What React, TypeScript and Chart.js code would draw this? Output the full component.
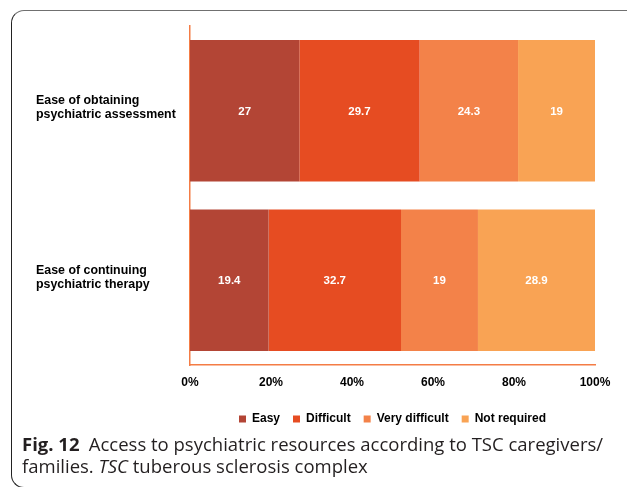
import React, { useEffect, useRef } from "react";
import { Chart, registerables } from "chart.js";

Chart.register(...registerables);

const categories: string[][] = [
  ["Ease of obtaining", "psychiatric assessment"],
  ["Ease of continuing", "psychiatric therapy"],
];
const seriesNames = ["Easy", "Difficult", "Very difficult", "Not required"];
const easy = [27, 19.4];
const difficult = [29.7, 32.7];
const veryDifficult = [24.3, 19];
const notRequired = [19, 28.9];
const seriesColors = ["#B34535", "#E64C22", "#F38249", "#F9A354"];
const xTicks = [0, 20, 40, 60, 80, 100];

const FONT = "Arial, 'Liberation Sans', sans-serif";

const valueLabels = {
  id: "valueLabels",
  afterDatasetsDraw(chart: any) {
    const ctx = chart.ctx;
    ctx.save();
    ctx.font = `bold 11.5px ${FONT}`;
    ctx.fillStyle = "#ffffff";
    ctx.textAlign = "center";
    ctx.textBaseline = "middle";
    chart.data.datasets.forEach((ds: any, i: number) => {
      const meta = chart.getDatasetMeta(i);
      meta.data.forEach((bar: any, j: number) => {
        const p = bar.getProps(["x", "y", "base"], true);
        ctx.fillText(String(ds.data[j]), (p.x + p.base) / 2, p.y + 1);
      });
    });
    ctx.restore();
  },
};

export default function App() {
  const ref = useRef<HTMLCanvasElement | null>(null);

  useEffect(() => {
    if (!ref.current) return;
    const allSeries = [easy, difficult, veryDifficult, notRequired];
    const chart = new Chart(ref.current, {
      type: "bar",
      data: {
        labels: categories,
        datasets: allSeries.map((d, i) => ({
          label: seriesNames[i],
          data: d,
          backgroundColor: seriesColors[i],
          borderWidth: 0,
          categoryPercentage: 1,
          barPercentage: 0.834,
        })),
      },
      options: {
        indexAxis: "y",
        animation: false,
        responsive: false,
        maintainAspectRatio: false,
        layout: { padding: { left: 36, top: 26, right: 32, bottom: 0 } },
        plugins: {
          tooltip: { enabled: false },
          legend: {
            position: "bottom",
            fullSize: false,
            labels: {
              boxWidth: 7,
              boxHeight: 7,
              padding: 13,
              color: "#000",
              font: { family: FONT, size: 12, weight: "bold" },
            },
          },
        },
        scales: {
          x: {
            stacked: true,
            min: 0,
            max: 100,
            afterBuildTicks: (s: any) => {
              s.ticks = xTicks.map((v) => ({ value: v }));
            },
            afterFit: (s: any) => {
              s.height = 35;
            },
            grid: { display: false, drawTicks: false },
            border: { display: true, color: "#F47C45", width: 1.5 },
            ticks: {
              padding: 10,
              color: "#000",
              font: { family: FONT, size: 12, weight: "bold" },
              callback: (v: any) => `${v}%`,
            },
          },
          y: {
            stacked: true,
            afterFit: (s: any) => {
              s.width = 154;
            },
            grid: { display: false, drawTicks: false },
            border: { display: true, color: "#F47C45", width: 1.5 },
            ticks: {
              crossAlign: "far",
              labelOffset: -3,
              color: "#000",
              font: { family: FONT, size: 12.4, weight: "bold", lineHeight: 1.15 },
            },
          },
        },
      },
      plugins: [valueLabels],
    });
    return () => chart.destroy();
  }, []);

  return (
    <div
      style={{
        position: "absolute",
        left: 0,
        top: 0,
        width: 627,
        height: 487,
        overflow: "hidden",
        background: "#fff",
      }}
    >
      <div
        style={{
          position: "absolute",
          left: 11,
          top: 10,
          width: 660,
          height: 478,
          borderTop: "1.5px solid #707070",
          borderLeft: "1.5px solid #222",
          borderBottom: "1.5px solid #222",
          borderTopLeftRadius: 13,
          borderBottomLeftRadius: 13,
          boxSizing: "border-box",
        }}
      />
      <canvas
        ref={ref}
        width={627}
        height={435}
        style={{ position: "absolute", left: 0, top: 0, width: 627, height: 435 }}
      />
      <div
        style={{
          position: "absolute",
          left: 22,
          top: 433,
          width: 605,
          whiteSpace: "nowrap",
          fontFamily: "'Open Sans', 'Noto Sans', sans-serif",
          fontSize: 18.5,
          lineHeight: "22px",
          color: "#231F20",
        }}
      >
        <b>Fig. 12</b>
        {"\u2002Access to psychiatric resources according to TSC caregivers/"}
        <br />
        families. <i>TSC</i> tuberous sclerosis complex
      </div>
    </div>
  );
}
